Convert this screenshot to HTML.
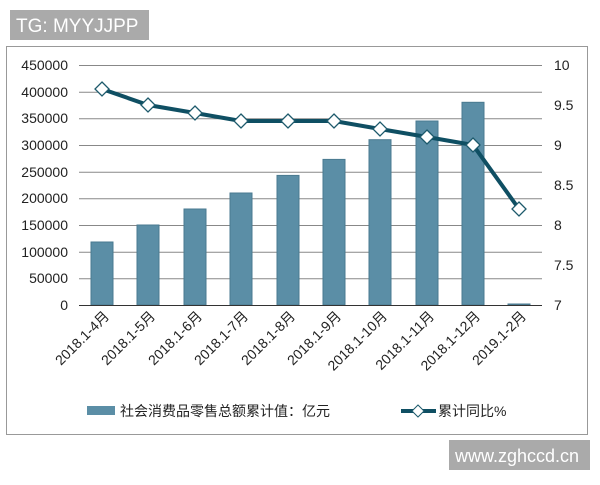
<!DOCTYPE html><html><head><style>body{margin:0;background:#fff;width:600px;height:480px;overflow:hidden;font-family:"Liberation Sans","Noto Sans CJK SC",sans-serif}</style></head><body>
<svg width="600" height="480" xmlns="http://www.w3.org/2000/svg" font-family="Liberation Sans, Noto Sans CJK SC, sans-serif">
<rect x="6.5" y="46.5" width="581" height="388" fill="#fff" stroke="#999"/>
<rect x="10" y="10" width="139" height="30" fill="#aaa"/>
<text x="16" y="32" font-size="19" fill="#fff">TG: MYYJJPP</text>
<rect x="449" y="440" width="141" height="30" fill="#aaa"/>
<text x="455" y="462" font-size="18" fill="#fff">www.zghccd.cn</text>
<g stroke="#888" stroke-width="1">
<line x1="79" y1="65.5" x2="542" y2="65.5"/><line x1="79" y1="92.2" x2="542" y2="92.2"/><line x1="79" y1="118.8" x2="542" y2="118.8"/><line x1="79" y1="145.5" x2="542" y2="145.5"/><line x1="79" y1="172.2" x2="542" y2="172.2"/><line x1="79" y1="198.8" x2="542" y2="198.8"/><line x1="79" y1="225.5" x2="542" y2="225.5"/><line x1="79" y1="252.2" x2="542" y2="252.2"/><line x1="79" y1="278.8" x2="542" y2="278.8"/>
</g>
<g font-size="14" fill="#222" text-anchor="end">
<text x="68" y="70">450000</text><text x="68" y="97">400000</text><text x="68" y="123">350000</text><text x="68" y="150">300000</text><text x="68" y="177">250000</text><text x="68" y="203">200000</text><text x="68" y="230">150000</text><text x="68" y="257">100000</text><text x="68" y="283">50000</text><text x="68" y="310">0</text>
</g>
<g font-size="14" fill="#222">
<text x="554" y="70">10</text><text x="554" y="110">9.5</text><text x="554" y="150">9</text><text x="554" y="190">8.5</text><text x="554" y="230">8</text><text x="554" y="270">7.5</text><text x="554" y="310">7</text>
</g>
<g fill="#5b8ea6" stroke="#4a7a90">
<rect x="91" y="242" width="22" height="63"/><rect x="137" y="225" width="22" height="80"/><rect x="184" y="209" width="22" height="96"/><rect x="230" y="193" width="22" height="112"/><rect x="277" y="175.4" width="22" height="129.6"/><rect x="323" y="159.4" width="22" height="145.6"/><rect x="369" y="139.7" width="22" height="165.3"/><rect x="416" y="121" width="22" height="184"/><rect x="462" y="102.3" width="22" height="202.7"/><rect x="508" y="304" width="22" height="1"/>
</g>
<line x1="79" y1="305.5" x2="542" y2="305.5" stroke="#333"/>
<polyline fill="none" stroke="#0f4f63" stroke-width="4" points="102,89 148,105 195,113 241,121 288,121 334,121 380,129 427,137 473,145 519,209"/>
<g fill="#fff" stroke="#1d5a6c" stroke-width="1.3">
<path d="M102,82l7,7-7,7-7-7z"/><path d="M148,98l7,7-7,7-7-7z"/><path d="M195,106l7,7-7,7-7-7z"/><path d="M241,114l7,7-7,7-7-7z"/><path d="M288,114l7,7-7,7-7-7z"/><path d="M334,114l7,7-7,7-7-7z"/><path d="M380,122l7,7-7,7-7-7z"/><path d="M427,130l7,7-7,7-7-7z"/><path d="M473,138l7,7-7,7-7-7z"/><path d="M519,202l7,7-7,7-7-7z"/>
</g>
<g font-size="14" fill="#222" text-anchor="end">
<text transform="translate(110,317) rotate(-45)">2018.1-4月</text>
<text transform="translate(156,317) rotate(-45)">2018.1-5月</text>
<text transform="translate(203,317) rotate(-45)">2018.1-6月</text>
<text transform="translate(249,317) rotate(-45)">2018.1-7月</text>
<text transform="translate(296,317) rotate(-45)">2018.1-8月</text>
<text transform="translate(342,317) rotate(-45)">2018.1-9月</text>
<text transform="translate(388,317) rotate(-45)">2018.1-10月</text>
<text transform="translate(435,317) rotate(-45)">2018.1-11月</text>
<text transform="translate(481,317) rotate(-45)">2018.1-12月</text>
<text transform="translate(527,317) rotate(-45)">2019.1-2月</text>
</g>
<rect x="87" y="406" width="28" height="9" fill="#5b8ea6"/>
<text x="120" y="416" font-size="14" fill="#222">社会消费品零售总额累计值：亿元</text>
<line x1="401" y1="411" x2="436" y2="411" stroke="#0f4f63" stroke-width="4"/>
<path d="M418,405l6,6-6,6-6-6z" fill="#fff" stroke="#1d5a6c"/>
<text x="438" y="416" font-size="14" fill="#222">累计同比%</text>
</svg>
</body></html>
